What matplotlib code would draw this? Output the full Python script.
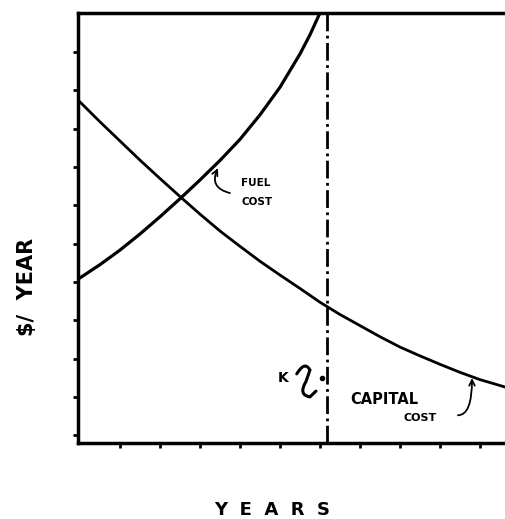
import numpy as np
import matplotlib
matplotlib.use("Agg")
import matplotlib.pyplot as plt
from matplotlib.path import Path
from matplotlib.patches import PathPatch

# Values (x = years, y = $/year, arbitrary units)
fuel_x = [-0.05, 0.5, 1, 1.5, 2, 2.5, 3, 3.5, 4, 4.5, 5, 5.5, 5.75, 6.0]
fuel_y = [4.07, 4.45, 4.83, 5.25, 5.7, 6.17, 6.66, 7.17, 7.72, 8.36, 9.08, 9.95, 10.45, 11.02]

capital_x = [-0.05, 0.5, 1, 1.5, 2, 2.5, 3, 3.5, 4, 4.5, 5, 5.5, 6, 6.5, 7, 7.5,
             8, 8.5, 9, 9.5, 10, 10.65]
capital_y = [8.75, 8.18, 7.68, 7.18, 6.7, 6.23, 5.77, 5.33, 4.93, 4.54, 4.18, 3.83,
             3.47, 3.15, 2.86, 2.57, 2.3, 2.07, 1.85, 1.64, 1.45, 1.25]

k_year = 6.18  # optimum replacement time K
x_ticks = [1, 2, 3, 4, 5, 6, 7, 8, 9, 10]
y_ticks = [0, 1, 2, 3, 4, 5, 6, 7, 8, 9, 10]

fig = plt.figure(figsize=(5.06, 5.19), dpi=100)
ax = fig.add_axes([0.154, 0.146, 0.846, 0.829])

ax.plot(fuel_x, fuel_y, color="black", lw=2.3, solid_capstyle="round",
        solid_joinstyle="round")
ax.plot(capital_x, capital_y, color="black", lw=2.0, solid_capstyle="round",
        solid_joinstyle="round")
ax.axvline(k_year, color="black", lw=2.0, linestyle="-.")

ax.set_xlim(-0.05, 10.65)
ax.set_ylim(-0.21, 11.02)
ax.set_xticks(x_ticks)
ax.set_yticks(y_ticks)
ax.set_xticklabels([])
ax.set_yticklabels([])
ax.tick_params(direction="out", length=3.5, width=2, color="black")

for side in ["left", "top", "bottom"]:
    ax.spines[side].set_linewidth(2.5)
ax.spines["right"].set_visible(False)

# hand written notes
ax.text(4.03, 6.58, "FUEL", fontsize=7.5, fontweight="bold", va="center", ha="left")
ax.text(4.03, 6.08, "COST", fontsize=7.5, fontweight="bold", va="center", ha="left")
ax.annotate("", xy=(3.45, 6.97), xytext=(3.75, 6.32),
            arrowprops=dict(arrowstyle="->", lw=1.3, color="black",
                            shrinkA=0, shrinkB=0,
                            connectionstyle="arc3,rad=-0.6"))

ax.text(5.08, 1.49, "K", fontsize=10, fontweight="bold", va="center", ha="center")
squiggle = Path([(5.42, 1.6), (5.62, 1.95), (5.75, 1.7), (5.65, 1.4),
                 (5.45, 1.05), (5.75, 1.0), (5.9, 1.15)],
                [Path.MOVETO, Path.CURVE3, Path.CURVE3, Path.LINETO,
                 Path.CURVE3, Path.CURVE3, Path.LINETO])
ax.add_patch(PathPatch(squiggle, fill=False, lw=2.2, color="black",
                       capstyle="round"))
ax.plot([6.05], [1.5], marker="o", ms=3, color="black")

ax.text(6.75, 0.92, "CAPITAL", fontsize=10.5, fontweight="bold", va="center", ha="left")
ax.text(8.1, 0.45, "COST", fontsize=8, fontweight="bold", va="center", ha="left")
ax.annotate("", xy=(9.8, 1.49), xytext=(9.45, 0.52),
            arrowprops=dict(arrowstyle="->", lw=1.3, color="black",
                            shrinkA=0, shrinkB=0,
                            connectionstyle="angle3,angleA=0,angleB=90"))

fig.text(0.053, 0.447, "\\$/  YEAR", rotation=90, fontsize=15, fontweight="bold",
         ha="center", va="center")
fig.text(0.537, 0.017, "Y  E  A  R  S", fontsize=13, fontweight="bold",
         ha="center", va="center")

fig.savefig("out.png", dpi=100)
